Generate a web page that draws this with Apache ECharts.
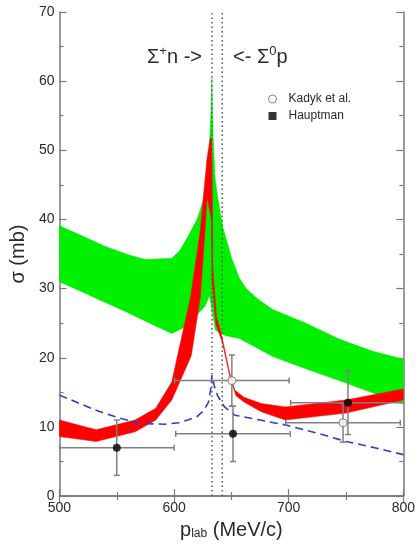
<!DOCTYPE html>
<html>
<head>
<meta charset="utf-8">
<script src="https://cdn.jsdelivr.net/npm/echarts@6/dist/echarts.min.js"></script>
<style>html,body{margin:0;padding:0;background:#fff;}#c{width:418px;height:545px;}</style>
</head>
<body>
<div id="c"></div>
<script>
// ---- data ----
var xTicks = [500, 600, 700, 800];
var yTicks = [0, 10, 20, 30, 40, 50, 60, 70];
var thresholds = [633, 642];

var greenUpper = [[500,39.1],[520,37.6],[540,36.1],[560,34.9],[575,34.2],[598,34.4],[605,35.5],[612,37.5],[620,40.0],[626,43.0],[630,48.0],[632,55.0],[633,60.5],[634,52.0],[635.7,46.1],[638,43.2],[642.5,38.9],[650,34.5],[657,31.5],[663,30.0],[673,28.5],[686,27.0],[715,25.0],[744,22.7],[772,21.0],[800,19.8]];
var greenLower = [[500,31.0],[520,29.5],[540,28.0],[560,26.5],[575,25.3],[598,23.5],[610,24.5],[620,26.2],[627,27.5],[631,29.0],[633,27.0],[636,24.0],[645,23.2],[657,22.8],[686,20.2],[715,18.4],[744,16.7],[772,15.0],[800,13.3]];

var redUpper = [[500,11.0],[532,9.6],[566,11.0],[584,12.7],[598,16.5],[603,20.3],[614.5,28.9],[623,38.5],[625.5,43.2],[628.8,48.9],[631.5,51.7],[632.5,51.8],[633.3,45.0],[633.8,33.0],[637,26.0],[641.6,23.2],[648.5,17.8],[653,15.3],[661,14.3],[676,13.4],[697,12.9],[750,13.9],[800,15.5]];
var redLower = [[500,8.6],[532,7.9],[566,9.3],[584,11.0],[598,13.9],[615,20.3],[623,28.9],[627,38.5],[628.8,43.2],[632.6,40.0],[633.2,31.0],[636.5,24.8],[642,22.3],[649,17.0],[654,14.5],[661,13.6],[676,12.2],[697,11.0],[750,12.0],[800,13.9]];

var blueDashed = [[500,14.6],[516,13.5],[532,12.4],[550,11.4],[566,10.7],[580,10.45],[592,10.4],[604,10.6],[612,11.0],[620,11.5],[626,12.4],[630,13.6],[632,15.5],[633,17.5],[635,16.0],[638,14.5],[644,12.9],[653,11.7],[675,11.0],[697,10.3],[725,9.1],[750,7.9],[775,7.0],[800,6.0]];

// [x, y, xerr, yerr]
var kadyk = [[650.4,16.7,50,3.7],[747.4,10.6,50,2.8]];
var hauptman = [[550,7.0,50,4.0],[651.4,9.0,50,4.0],[751.7,13.5,50,4.6]];

// ---- chart ----
var chart = echarts.init(document.getElementById('c'), null, {renderer:'canvas'});
var FONT = 'Liberation Sans, Arial, sans-serif';
var TXT = '#2a2a2a';
var FRAME = '#7a7a7a';

function band(name, upper, lower, color, z) {
  return {
    type:'custom', name:name, silent:true, z:z, clip:true,
    data:[[500,0]],
    renderItem:function(params, api){
      var pts = upper.map(function(p){return api.coord(p);})
        .concat(lower.slice().reverse().map(function(p){return api.coord(p);}));
      return {type:'polygon', shape:{points:pts}, style:{fill:color, stroke:color, lineWidth:0.5}};
    }
  };
}

function errorBars(name, data, z) {
  return {
    type:'custom', name:name+'_err', silent:true, z:z, clip:true,
    data:data,
    renderItem:function(params, api){
      var x = api.value(0), y = api.value(1), xe = api.value(2), ye = api.value(3);
      var l = api.coord([x-xe, y]), r = api.coord([x+xe, y]);
      var t = api.coord([x, y+ye]), b = api.coord([x, y-ye]);
      var st = {stroke:'#808080', lineWidth:1.5};
      var c = 3;
      return {type:'group', children:[
        {type:'line', shape:{x1:l[0],y1:l[1],x2:r[0],y2:r[1]}, style:st},
        {type:'line', shape:{x1:t[0],y1:t[1],x2:b[0],y2:b[1]}, style:st},
        {type:'line', shape:{x1:l[0],y1:l[1]-c,x2:l[0],y2:l[1]+c}, style:st},
        {type:'line', shape:{x1:r[0],y1:r[1]-c,x2:r[0],y2:r[1]+c}, style:st},
        {type:'line', shape:{x1:t[0]-c,y1:t[1],x2:t[0]+c,y2:t[1]}, style:st},
        {type:'line', shape:{x1:b[0]-c,y1:b[1],x2:b[0]+c,y2:b[1]}, style:st}
      ]};
    }
  };
}

var axisCommon = {
  type:'value',
  axisLine:{show:true, lineStyle:{color:FRAME, width:1.5}},
  axisTick:{show:true, inside:true, length:7, lineStyle:{color:FRAME, width:1.2}},
  minorTick:{show:true, splitNumber:2, length:4, lineStyle:{color:FRAME, width:1.2}},
  splitLine:{show:false},
  minorSplitLine:{show:false}
};

var option = {
  animation:false,
  backgroundColor:'#fff',
  grid:{left:58, right:13, top:12, bottom:43},
  legend:{
    orient:'vertical', left:263, top:87, itemWidth:22, itemHeight:8, itemGap:3,
    textStyle:{fontSize:12, color:TXT, fontFamily:FONT, lineHeight:14},
    data:[
      {name:'Kadyk et al.', icon:'circle', itemStyle:{color:'#fff', borderColor:'#666', borderWidth:1}},
      {name:'Hauptman', icon:'path://M0,0L8,0L8,8L0,8Z', itemStyle:{color:'#000'}}
    ]
  },
  xAxis:[
    Object.assign({}, axisCommon, {
      position:'bottom', min:xTicks[0], max:xTicks[xTicks.length-1], interval:100,
      axisLabel:{show:true, fontSize:14, color:TXT, fontFamily:FONT, margin:5},
      name:'{p|p}{s|lab}{t| (MeV/c)}', nameLocation:'middle', nameGap:22,
      nameTextStyle:{fontFamily:FONT, color:TXT, rich:{
        p:{fontSize:20, fontFamily:FONT, color:TXT},
        s:{fontSize:12, fontFamily:FONT, color:TXT, verticalAlign:'bottom', lineHeight:14, padding:[8,0,0,0]},
        t:{fontSize:20, fontFamily:FONT, color:TXT}
      }}
    }),
    Object.assign({}, axisCommon, {
      position:'top', min:xTicks[0], max:xTicks[xTicks.length-1], interval:100,
      axisLabel:{show:false}
    })
  ],
  yAxis:[
    Object.assign({}, axisCommon, {
      position:'left', min:yTicks[0], max:yTicks[yTicks.length-1], interval:10,
      axisLabel:{show:true, fontSize:14, color:TXT, fontFamily:FONT, margin:5},
      name:'σ (mb)', nameLocation:'middle', nameGap:27, nameRotate:90,
      nameTextStyle:{fontSize:20, color:TXT, fontFamily:FONT}
    }),
    Object.assign({}, axisCommon, {
      position:'right', min:yTicks[0], max:yTicks[yTicks.length-1], interval:10,
      axisLabel:{show:false}
    })
  ],
  graphic:[
    {type:'text', left:147, top:45, z:100, style:{
      text:'{a|Σ}{s|+}{a|n ->}',
      rich:{a:{fontSize:20, fontFamily:FONT, fill:TXT, lineHeight:24}, s:{fontSize:13, fontFamily:FONT, fill:TXT, verticalAlign:'top', lineHeight:13}}
    }},
    {type:'text', left:233, top:45, z:100, style:{
      text:'{a|<- Σ}{s|0}{a|p}',
      rich:{a:{fontSize:20, fontFamily:FONT, fill:TXT, lineHeight:24}, s:{fontSize:13, fontFamily:FONT, fill:TXT, verticalAlign:'top', lineHeight:13}}
    }}
  ],
  series:[
    band('green', greenUpper, greenLower, '#00f000', 1),
    band('red', redUpper, redLower, '#ff0000', 2),
    {type:'line', name:'blue', data:blueDashed, symbol:'none', z:3, silent:true,
     lineStyle:{color:'#2b3bd6', width:1.6, type:[8,5]}},
    {type:'line', name:'thr1', data:[[thresholds[0],0],[thresholds[0],70]], symbol:'none', z:4, silent:true,
     lineStyle:{color:'#555', width:1.5, type:[1.5,3]}},
    {type:'line', name:'thr2', data:[[thresholds[1],0],[thresholds[1],70]], symbol:'none', z:4, silent:true,
     lineStyle:{color:'#555', width:1.5, type:[1.5,3]}},
    errorBars('Kadyk et al.', kadyk, 5),
    errorBars('Hauptman', hauptman, 5),
    {type:'scatter', name:'Kadyk et al.', z:6, data:kadyk.map(function(d){return [d[0],d[1]];}),
     symbol:'circle', symbolSize:8, itemStyle:{color:'#fff', borderColor:'#666', borderWidth:1}},
    {type:'scatter', name:'Hauptman', z:6, data:hauptman.map(function(d){return [d[0],d[1]];}),
     symbol:'circle', symbolSize:8, itemStyle:{color:'#000'}}
  ]
};
chart.setOption(option);
</script>
</body>
</html>
